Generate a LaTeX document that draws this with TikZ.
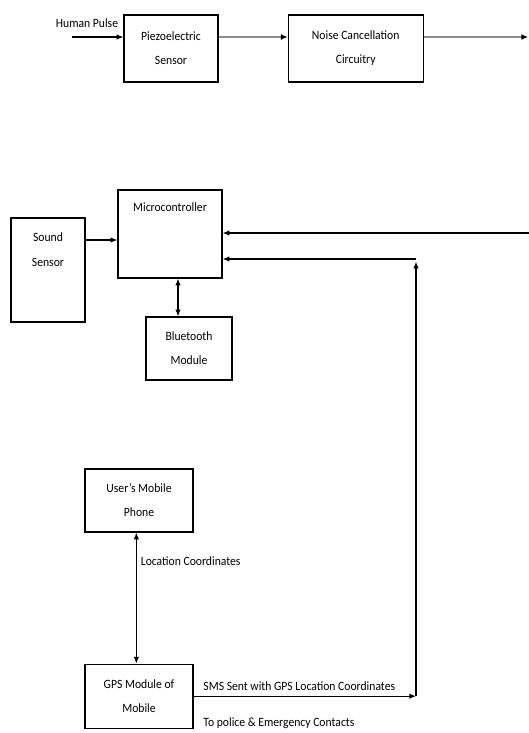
\documentclass[tikz,border=0pt]{standalone}
\usepackage{fontspec}
\setmainfont{Carlito}[FakeStretch=0.92]
\usepackage{tikz}
\usetikzlibrary{positioning, arrows.meta}

\begin{document}
\begin{tikzpicture}[x=0.75pt, y=-0.75pt, >={Latex[length=5pt, width=4pt]},
    block/.style={draw, line width=0.9pt, align=center, font=\fontsize{9.5}{18}\selectfont},
    lbl/.style={font=\fontsize{9.5}{12}\selectfont, inner sep=1pt},
    feed/.style={-{Latex[color=black, length=5pt, width=4.5pt]}, line width=2.2pt, draw=black!45},
    link/.style={->, line width=0.8pt}]

            \useasboundingbox (0,0) rectangle (529,733);

            % Nodes
            \node[block, minimum width=70.5pt, minimum height=50.25pt] (piezo) at (171,48.5) {Piezoelectric\\Sensor};
            \node[block, right=51.75pt of piezo, minimum width=101.25pt, minimum height=50.25pt] (noise) {Noise Cancellation\\Circuitry};
            \node[block, minimum width=78pt, minimum height=66pt,
                  label={[lbl, anchor=north, inner sep=10pt]north:Microcontroller}] (micro) at (170,234) {};
            \node[block, minimum width=55.5pt, minimum height=78pt,
                  label={[lbl, align=center, anchor=north, inner sep=11pt, font=\fontsize{9.5}{18.75}\selectfont]north:{Sound\\Sensor}}] (sound) at (48,270) {};
            \node[block, minimum width=64.5pt, minimum height=47.25pt] (bt) at (189,348.5) {Bluetooth\\Module};
            \node[block, minimum width=81pt, minimum height=47.25pt] (user) at (139,500.5) {User's Mobile\\Phone};
            \node[block, below=98.25pt of user, minimum width=81pt, minimum height=48pt] (gps) {GPS Module of\\Mobile};

            % Free ends
            \coordinate (pulsein) at (72,37);
            \coordinate (toright) at (528,37);
            \coordinate (fromright) at (529,233);
            \coordinate (corner) at (416,259);
            \coordinate (sndout) at ([yshift=22.5pt]sound.east);
            \node[lbl, anchor=south] (pulse) at (87,29) {Human Pulse};

            % Arrows
            \draw[link] (pulsein) -- (pulsein -| piezo.west);
            \draw[feed] (piezo.east |- pulsein) -- (noise.west |- pulsein);
            \draw[feed] (noise.east |- pulsein) -- (toright);
            \draw[link] (fromright) -- (fromright -| micro.east);
            \draw[link] (sndout) -- (sndout -| micro.west);
            \draw[<->, line width=0.8pt] ([xshift=6pt]micro.south) -- ([xshift=6pt]micro.south |- bt.north);
            \draw[<->, line width=0.8pt] ([xshift=-2pt]user.south) -- ([xshift=-2pt]gps.north)
                node[lbl, pos=0.22, anchor=west, xshift=2pt] {Location Coordinates};
            \draw[link] (gps.east) -- (gps.east -| corner)
                node[lbl, pos=0, anchor=south west, xshift=6pt, yshift=3pt] {SMS Sent with GPS Location Coordinates}
                node[lbl, pos=0, anchor=north west, xshift=6pt, yshift=-15pt] {To police \& Emergency Contacts};
            \draw[link] (gps.east -| corner) -- ([yshift=-2pt]corner);
            \draw[link] (corner) -- (corner -| micro.east);
\end{tikzpicture}
\end{document}
